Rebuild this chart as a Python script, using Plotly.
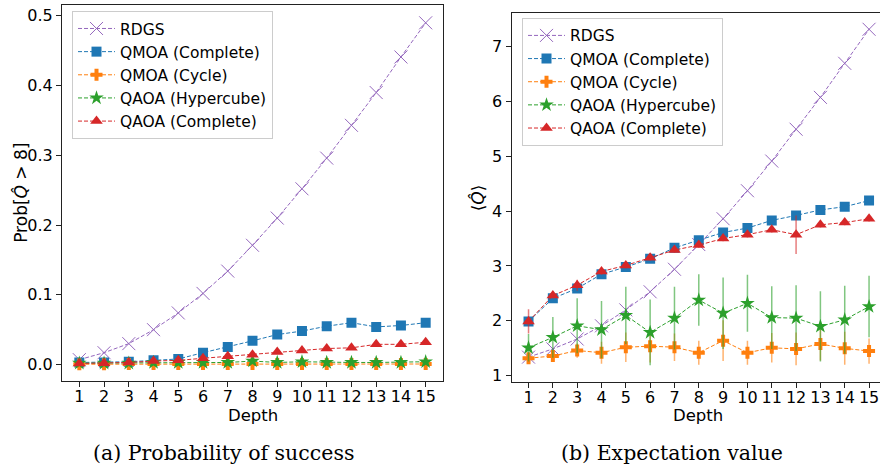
import plotly.graph_objects as go

depth = list(range(1, 16))
depth_ticks = [str(d) for d in depth]

# Panel (a): probability of success Prob[Q > 8]
prob_rdgs = [0.007, 0.017, 0.030, 0.050, 0.074, 0.102, 0.134, 0.171, 0.210, 0.252, 0.296, 0.343, 0.390, 0.441, 0.490]
prob_qmoa_complete = [0.003, 0.003, 0.004, 0.006, 0.008, 0.017, 0.025, 0.034, 0.043, 0.048, 0.055, 0.060, 0.054, 0.056, 0.060]
prob_qmoa_cycle = [0.0005, 0.0005, 0.0008, 0.0008, 0.0008, 0.0008, 0.0008, 0.0008, 0.0008, 0.0008, 0.0008, 0.0008, 0.0008, 0.0008, 0.0008]
prob_qaoa_hypercube = [0.002, 0.002, 0.002, 0.003, 0.003, 0.003, 0.003, 0.005, 0.003, 0.004, 0.003, 0.003, 0.003, 0.003, 0.004]
prob_qaoa_complete = [0.0015, 0.002, 0.003, 0.005, 0.006, 0.009, 0.012, 0.014, 0.018, 0.020, 0.023, 0.024, 0.029, 0.029, 0.032]

# Panel (b): expectation value <Q>
exp_rdgs = [1.34, 1.49, 1.67, 1.91, 2.20, 2.53, 2.94, 3.39, 3.86, 4.37, 4.91, 5.49, 6.07, 6.69, 7.31]
exp_qmoa_complete = [1.99, 2.41, 2.59, 2.85, 2.98, 3.13, 3.33, 3.47, 3.61, 3.69, 3.83, 3.92, 4.02, 4.08, 4.19]
err_qmoa_complete = [0.05, 0.05, 0.05, 0.05, 0.05, 0.05, 0.05, 0.05, 0.05, 0.05, 0.05, 0.05, 0.05, 0.05, 0.05]
exp_qmoa_cycle = [1.32, 1.36, 1.46, 1.42, 1.52, 1.54, 1.52, 1.42, 1.64, 1.42, 1.51, 1.49, 1.58, 1.50, 1.45]
err_qmoa_cycle = [0.10, 0.10, 0.13, 0.20, 0.27, 0.30, 0.25, 0.22, 0.37, 0.22, 0.27, 0.30, 0.30, 0.30, 0.23]
exp_qaoa_hypercube = [1.51, 1.70, 1.91, 1.84, 2.10, 1.79, 2.05, 2.38, 2.14, 2.32, 2.06, 2.05, 1.90, 2.02, 2.26]
err_qaoa_hypercube = [0.25, 0.37, 0.50, 0.52, 0.52, 0.60, 0.57, 0.47, 0.65, 0.52, 0.57, 0.60, 0.64, 0.62, 0.56]
exp_qaoa_complete = [1.99, 2.46, 2.65, 2.90, 3.01, 3.15, 3.29, 3.38, 3.50, 3.57, 3.66, 3.57, 3.75, 3.79, 3.86]
err_qaoa_complete = [0.22, 0.05, 0.10, 0.06, 0.05, 0.05, 0.05, 0.05, 0.05, 0.05, 0.05, 0.35, 0.05, 0.05, 0.05]

names = ["RDGS", "QMOA (Complete)", "QMOA (Cycle)", "QAOA (Hypercube)", "QAOA (Complete)"]
colors = ["#9467bd", "#1f77b4", "#ff7f0e", "#2ca02c", "#d62728"]
err_colors = ["rgba(148,103,189,0.6)", "rgba(31,119,180,0.6)", "rgba(255,127,14,0.6)",
              "rgba(44,160,44,0.6)", "rgba(214,39,40,0.6)"]
symbols = ["x-thin-open", "square", "cross", "star", "triangle-up"]
sizes = [13, 10, 10, 11, 11]

W, H = 880, 470
FONT = "DejaVu Sans"
TICK_SIZE = 16

fig = go.Figure()

prob_series = [prob_rdgs, prob_qmoa_complete, prob_qmoa_cycle, prob_qaoa_hypercube, prob_qaoa_complete]
exp_series = [exp_rdgs, exp_qmoa_complete, exp_qmoa_cycle, exp_qaoa_hypercube, exp_qaoa_complete]
exp_errs = [None, err_qmoa_complete, err_qmoa_cycle, err_qaoa_hypercube, err_qaoa_complete]

def marker(i):
    m = dict(symbol=symbols[i], size=sizes[i], color=colors[i])
    m["line"] = dict(color=colors[i], width=1 if i == 0 else 0)
    return m

for i in range(5):
    fig.add_trace(go.Scatter(
        x=depth, y=prob_series[i], name=names[i], mode="lines+markers",
        line=dict(color=colors[i], width=1, dash="4px,2px"),
        marker=marker(i), xaxis="x", yaxis="y", legend="legend",
        legendgroup="a%d" % i,
    ))

for i in range(5):
    err = None
    if exp_errs[i] is not None:
        err = dict(type="data", array=exp_errs[i], visible=True, color=err_colors[i],
                   thickness=1.5, width=0)
    fig.add_trace(go.Scatter(
        x=depth, y=exp_series[i], name=names[i], mode="lines+markers",
        line=dict(color=colors[i], width=1, dash="4px,2px"),
        marker=marker(i), error_y=err, xaxis="x2", yaxis="y2", legend="legend2",
        legendgroup="b%d" % i,
    ))

axis_common = dict(
    showline=True, linecolor="#222222", linewidth=1,
    ticks="outside", ticklen=5, tickwidth=1, tickcolor="#222222",
    showgrid=False, zeroline=False,
    tickfont=dict(family=FONT, size=TICK_SIZE, color="black"),
)

fig.update_layout(
    width=W, height=H,
    margin=dict(l=0, r=0, t=0, b=0),
    paper_bgcolor="white", plot_bgcolor="white",
    font=dict(family=FONT, size=15, color="black"),
    xaxis=dict(domain=[62 / W, 443 / W], range=[0.3, 15.7], tickmode="array",
               tickvals=depth, ticktext=depth_ticks, ticklabelstandoff=-4,
               mirror=True, anchor="y", **axis_common),
    yaxis=dict(domain=[1 - 384 / H, 1 - 5 / H], range=[-0.0232, 0.5156],
               tickvals=[0.0, 0.1, 0.2, 0.3, 0.4, 0.5], tickformat=".1f",
               mirror=True, anchor="x", **axis_common),
    xaxis2=dict(domain=[511.5 / W, 1.0], range=[0.3, 15.45], tickmode="array",
                tickvals=depth, ticktext=depth_ticks, ticklabelstandoff=-4,
                mirror=True, anchor="y2", **axis_common),
    yaxis2=dict(domain=[1 - 385 / H, 1 - 13.3 / H], range=[0.892, 7.603],
                tickvals=[1, 2, 3, 4, 5, 6, 7], mirror=False, anchor="x2", **axis_common),
    legend=dict(x=72 / W, y=1 - 11 / H, xanchor="left", yanchor="top",
                bgcolor="rgba(255,255,255,0.8)", bordercolor="#cccccc", borderwidth=1,
                font=dict(family=FONT, size=15.5), traceorder="grouped", tracegroupgap=0,
                itemwidth=37),
    legend2=dict(x=522 / W, y=1 - 18 / H, xanchor="left", yanchor="top",
                 bgcolor="rgba(255,255,255,0.8)", bordercolor="#cccccc", borderwidth=1,
                 font=dict(family=FONT, size=15.5), traceorder="grouped", tracegroupgap=0,
                 itemwidth=37),
    showlegend=True,
)

annotations = [
    dict(text="Depth", x=252.5 / W, y=1 - 407 / H, xref="paper", yref="paper",
         showarrow=False, font=dict(family=FONT, size=16.5), xanchor="center", yanchor="top"),
    dict(text="Depth", x=698 / W, y=1 - 407 / H, xref="paper", yref="paper",
         showarrow=False, font=dict(family=FONT, size=16.5), xanchor="center", yanchor="top"),
    dict(text="Prob[<i>Q̂</i> > 8]", x=21.5 / W, y=1 - 195 / H, xref="paper", yref="paper",
         showarrow=False, textangle=-90, font=dict(family=FONT, size=17),
         xanchor="center", yanchor="middle"),
    dict(text="⟨<i>Q̂</i>⟩", x=478 / W, y=1 - 200 / H, xref="paper", yref="paper",
         showarrow=False, textangle=-90, font=dict(family=FONT, size=17),
         xanchor="center", yanchor="middle"),
    dict(text="(a) Probability of success", x=223 / W, y=1 - 457 / H, xref="paper", yref="paper",
         showarrow=False, font=dict(family="DejaVu Serif", size=20.5),
         xanchor="center", yanchor="middle"),
    dict(text="(b) Expectation value", x=672 / W, y=1 - 457 / H, xref="paper", yref="paper",
         showarrow=False, font=dict(family="DejaVu Serif", size=20.5),
         xanchor="center", yanchor="middle"),
]
fig.update_layout(annotations=annotations)

fig.write_html("out.html")
